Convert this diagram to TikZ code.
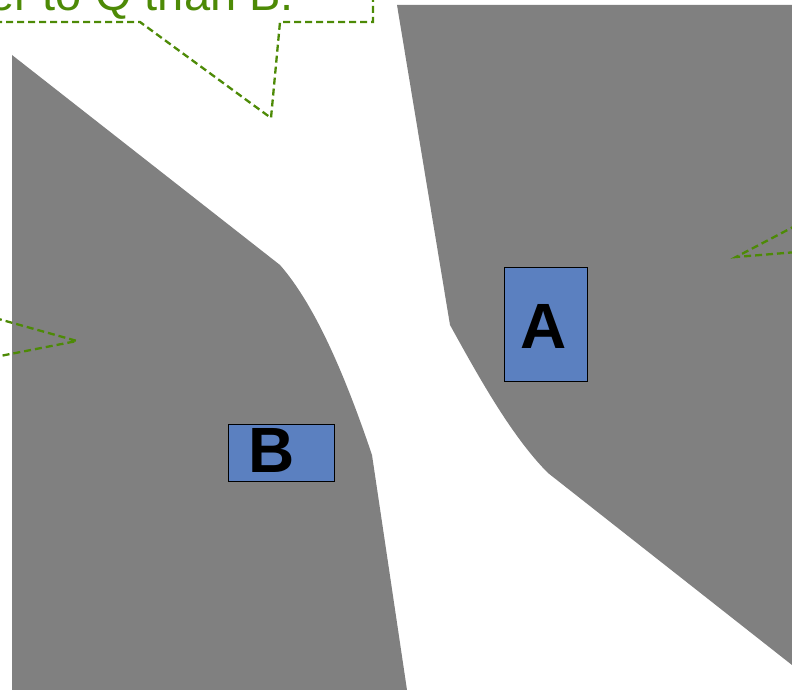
\documentclass[tikz,border=0pt]{standalone}
\usepackage{fontspec}
\setmainfont{Liberation Sans}
\usetikzlibrary{positioning}
\definecolor{cellgray}{HTML}{808080}
\definecolor{boxblue}{HTML}{5B80C0}
\definecolor{callgreen}{HTML}{4D8A06}
\tikzset{
  regionbox/.style={draw=black, line width=1pt, fill=boxblue, inner sep=0pt},
  letter/.style={font=\fontsize{64}{64}\selectfont\bfseries, inner sep=0pt},
  callout/.style={draw=callgreen, line width=2.3pt, dash pattern=on 7pt off 4pt}
}

\begin{document}
\begin{tikzpicture}[x=1pt,y=-1pt]
    \useasboundingbox (0,0) rectangle (792,690);
    \clip (0,0) rectangle (792,690);
    % the two gray cells
    \fill[cellgray] (12,55) -- (280,265) .. controls (315,305) and (345,375) .. (372,455)
        -- (407,690) -- (12,690) -- cycle;
    \fill[cellgray] (397,5) -- (792,5) -- (792,665) -- (548,473)
        .. controls (510,435) and (475,370) .. (450,325) -- cycle;
    % sites
    \node[regionbox, minimum width=83pt, minimum height=114pt] (A) at (545.5,324) {};
    \node[letter] (labA) at ([xshift=-2pt,yshift=-2pt]A.center) {A};
    \node[regionbox, minimum width=106pt, minimum height=57pt] (B) at (281,452.5) {};
    \node[letter] (labB) at ([xshift=-9pt,yshift=2pt]B.center) {B};
    % callouts
    \node[anchor=base east, font=\fontsize{47}{47}\selectfont, text=callgreen, inner sep=0pt]
        (note) at (294,11) {closer to Q than B.};
    \draw[callout] (-5,22) -- (140,22) -- (271,118) -- (280,22) -- (373,22) -- (373,-5);
    \draw[callout] (-5,318) -- (77,341) -- (-5,357);
    \draw[callout] (797,225) -- (736,257) -- (797,252);
  \end{tikzpicture}
\end{document}
